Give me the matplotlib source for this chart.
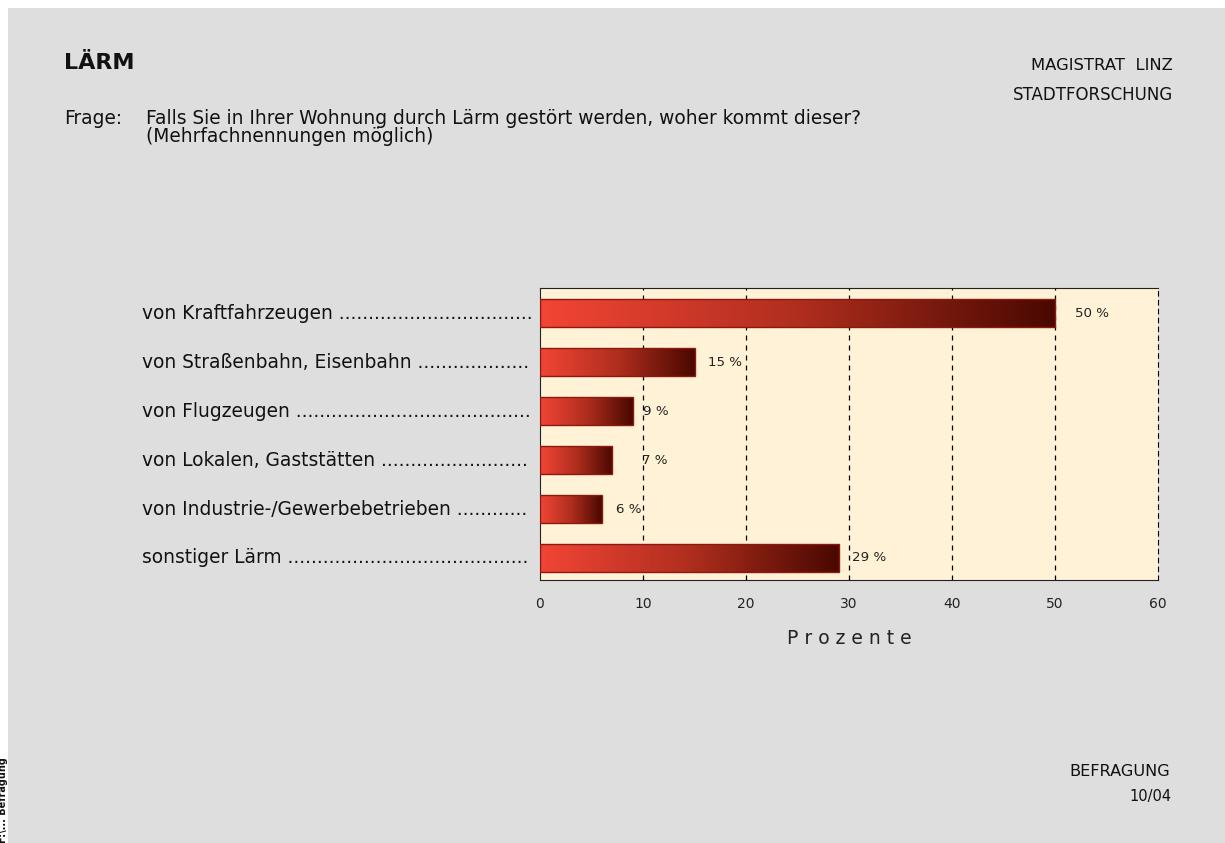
import numpy as np
import matplotlib
matplotlib.use("Agg")
import matplotlib.pyplot as plt
from matplotlib.colors import LinearSegmentedColormap
from matplotlib.patches import Rectangle
import matplotlib.transforms as mtransforms

plt.rcParams['font.family'] = ['DejaVu Sans']

# Daten
kategorien = ["von Kraftfahrzeugen", "von Straßenbahn, Eisenbahn",
              "von Flugzeugen", "von Lokalen, Gaststätten",
              "von Industrie-/Gewerbebetrieben", "sonstiger Lärm"]
prozente = [50, 15, 9, 7, 6, 29]
xticks = [0, 10, 20, 30, 40, 50, 60]
# Abstand der Wertbeschriftung zum Balkenende (Pixel)
label_dx = [20, 14, 10, 30, 14, 13]

W, H = 1225, 843
fig = plt.figure(figsize=(W / 100, H / 100), dpi=100, facecolor="white")

# grauer Hintergrund (weisser Rand links und oben)
fig.patches.append(Rectangle((8 / W, 0), 1 - 8 / W, 1 - 8 / H, transform=fig.transFigure,
                             facecolor="#dedede", edgecolor="none", zorder=-5))

ax = fig.add_axes([540 / W, 1 - 580 / H, (1158 - 540) / W, (580 - 288) / H])
ax.set_facecolor("#fff2d6")

cmap = LinearSegmentedColormap.from_list("rot", ["#f24535", "#b02e1e", "#4a0800"])
grad = np.linspace(0, 1, 256).reshape(1, -1)
bh = 0.57
pos = np.arange(len(kategorien))
for y, v in zip(pos, prozente):
    ax.imshow(grad, cmap=cmap, aspect="auto", extent=(0, v, y + bh / 2, y - bh / 2),
              zorder=3, interpolation="bicubic")
ax.barh(pos, prozente, height=bh, facecolor="none", edgecolor="#8a1a10", linewidth=1, zorder=4)

for y, v, dx in zip(pos, prozente, label_dx):
    ax.annotate(f"{v} %", (v, y), xytext=(dx, 0), textcoords="offset pixels",
                va="center", ha="left", fontsize=9.6, color="#222222", zorder=5)

ax.set_xlim(0, 60)
ax.set_ylim(5.45, -0.52)
ax.set_xticks(xticks)
ax.set_yticks([])
ax.tick_params(axis="x", length=0, pad=12, labelsize=10, colors="#222222")
for xv in xticks[1:-1]:
    ax.axvline(xv, color="black", linestyle=(0, (4, 4)), linewidth=0.9, zorder=1)
for s in ["left", "top", "bottom"]:
    ax.spines[s].set_color("#222222")
ax.spines["right"].set_linestyle((0, (4, 4)))
ax.spines["right"].set_color("black")
ax.set_xlabel("P r o z e n t e", fontsize=13.5, labelpad=13, color="#222222")

# Kategorien mit Punktlinie
trans = mtransforms.blended_transform_factory(fig.transFigure, ax.transData)
x0, x_end = 142 / W, 533 / W
fig.canvas.draw()
r = fig.canvas.get_renderer()
dot = fig.text(0, 0, "." * 20, fontsize=13.4)
dot_w = dot.get_window_extent(r).width / 20
dot.remove()
for y, lab in zip(pos, kategorien):
    t = fig.text(x0, y, lab + " ", transform=trans, fontsize=13.4, va="center", ha="left", color="#111111")
    w = t.get_window_extent(r).width
    n = int((x_end * W - x0 * W - w) / dot_w)
    t.set_text(lab + " " + "." * n)

# Kopf
fig.text(64 / W, 1 - 63 / H, "LÄRM", fontsize=16, fontweight="bold", va="center", color="#111111")
fig.text(64 / W, 1 - 119 / H, "Frage:", fontsize=13.4, va="center", color="#111111")
fig.text(146 / W, 1 - 119 / H, "Falls Sie in Ihrer Wohnung durch Lärm gestört werden, woher kommt dieser?",
         fontsize=13.4, va="center", color="#111111")
fig.text(146 / W, 1 - 137 / H, "(Mehrfachnennungen möglich)", fontsize=13.4, va="center", color="#111111")
fig.text(1173 / W, 1 - 66 / H, "MAGISTRAT  LINZ", fontsize=11.8, ha="right", va="center", color="#111111")
fig.text(1173 / W, 1 - 95 / H, "STADTFORSCHUNG", fontsize=12, ha="right", va="center", color="#111111")
fig.text(1170 / W, 1 - 772 / H, "BEFRAGUNG", fontsize=11.6, ha="right", va="center", color="#111111")
fig.text(1172 / W, 1 - 796 / H, "10/04", fontsize=10.5, ha="right", va="center", color="#111111")

# abgeschnittener Randtext
fig.text(-2 / W, 1 - 843 / H, "F:\\... Befragung", fontsize=7, fontweight="bold", rotation=90,
         ha="left", va="bottom", color="#111111")

fig.savefig("out.png", dpi=100, facecolor=fig.get_facecolor())
